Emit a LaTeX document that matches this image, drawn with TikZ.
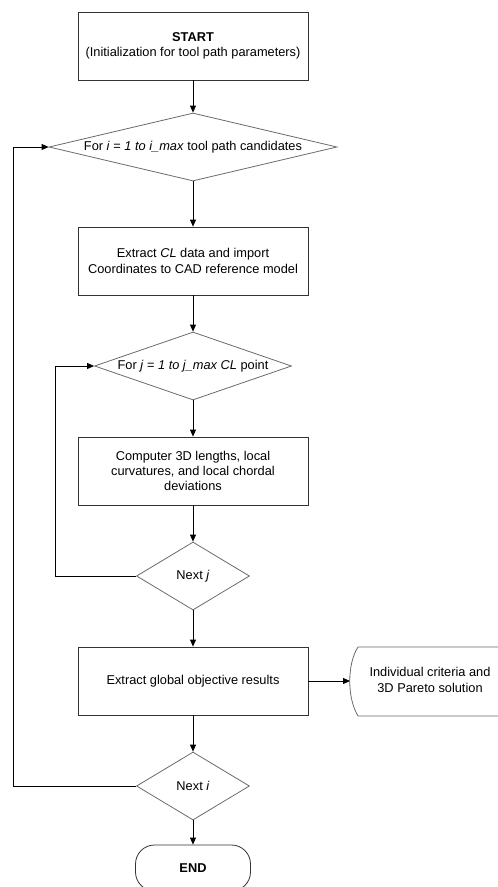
\documentclass[tikz,border=0pt]{standalone}
\usepackage{fontspec}
\setmainfont{Liberation Sans}
\usepackage{tikz}
\usetikzlibrary{positioning, arrows.meta, shapes.geometric}
\definecolor{boxline}{HTML}{333333}
\definecolor{decline}{HTML}{6A6A6A}

\tikzset{
  flowbox/.style={draw=boxline, line width=0.8pt, minimum width=230pt,
    minimum height=68pt, align=center, inner sep=3pt},
  decision/.style={diamond, draw=decline, line width=0.8pt, inner sep=0pt,
    align=center},
  flowarrow/.style={-{Triangle[length=7pt,width=6pt]}, line width=0.8pt, draw=black}
}

\begin{document}
\begin{tikzpicture}[x=1pt, y=-1pt, font=\fontsize{12.8}{15.3}\selectfont]
  \useasboundingbox (0,0) rectangle (498,887);

  % main column
  \node[flowbox] (start) at (193,46)
    {\textbf{START}\\(Initialization for tool path parameters)};
  \node[decision, aspect=4.2, minimum width=288pt, minimum height=68pt] (fori) at (193,147)
    {For \textit{i} = \textit{1 to i\_max} tool path candidates};
  \node[flowbox] (extract) at (193,261)
    {Extract \textit{CL} data and import\\Coordinates to CAD reference model};
  \node[decision, aspect=2.9, minimum width=197pt, minimum height=68pt] (forj) at (193,366)
    {For \textit{j} = \textit{1 to j\_max CL} point};
  \node[flowbox] (compute) at (193,471)
    {Computer 3D lengths, local\\curvatures, and local chordal\\deviations};
  \node[decision, aspect=1.66, minimum width=113pt, minimum height=68pt] (nextj) at (193,576)
    {Next \textit{j}};
  \node[flowbox] (global) at (193,681) {Extract global objective results};
  \node[decision, aspect=1.66, minimum width=113pt, minimum height=68pt] (nexti) at (193,786)
    {Next \textit{i}};
  \node[draw=boxline, line width=0.8pt, rounded corners=19pt, minimum width=115pt,
    minimum height=46pt] (finish) at (193,868) {\textbf{END}};

  % output shape on the right
  \node[align=center] (result) at (430,680)
    {Individual criteria and\\3D Pareto solution};
  \coordinate (resultin) at (350,681);
  \draw[draw=decline, line width=0.8pt] (512,647) -- (358,647)
    .. controls (347,664) and (347,698) .. (358,716) -- (512,716);

  % connectors
  \draw[flowarrow] (start) -- (fori);
  \draw[flowarrow] (fori) -- (extract);
  \draw[flowarrow] (extract) -- (forj);
  \draw[flowarrow] (forj) -- (compute);
  \draw[flowarrow] (compute) -- (nextj);
  \draw[flowarrow] (nextj) -- (global);
  \draw[flowarrow] (global) -- (nexti);
  \draw[flowarrow] (nexti) -- (finish);
  \draw[flowarrow] (global) -- (resultin);

  % loops back
  \draw[flowarrow] (nextj.west) -- ++(-81,0) |- (forj.west);
  \draw[flowarrow] (nexti.west) -- ++(-123,0) |- (fori.west);
\end{tikzpicture}
\end{document}
